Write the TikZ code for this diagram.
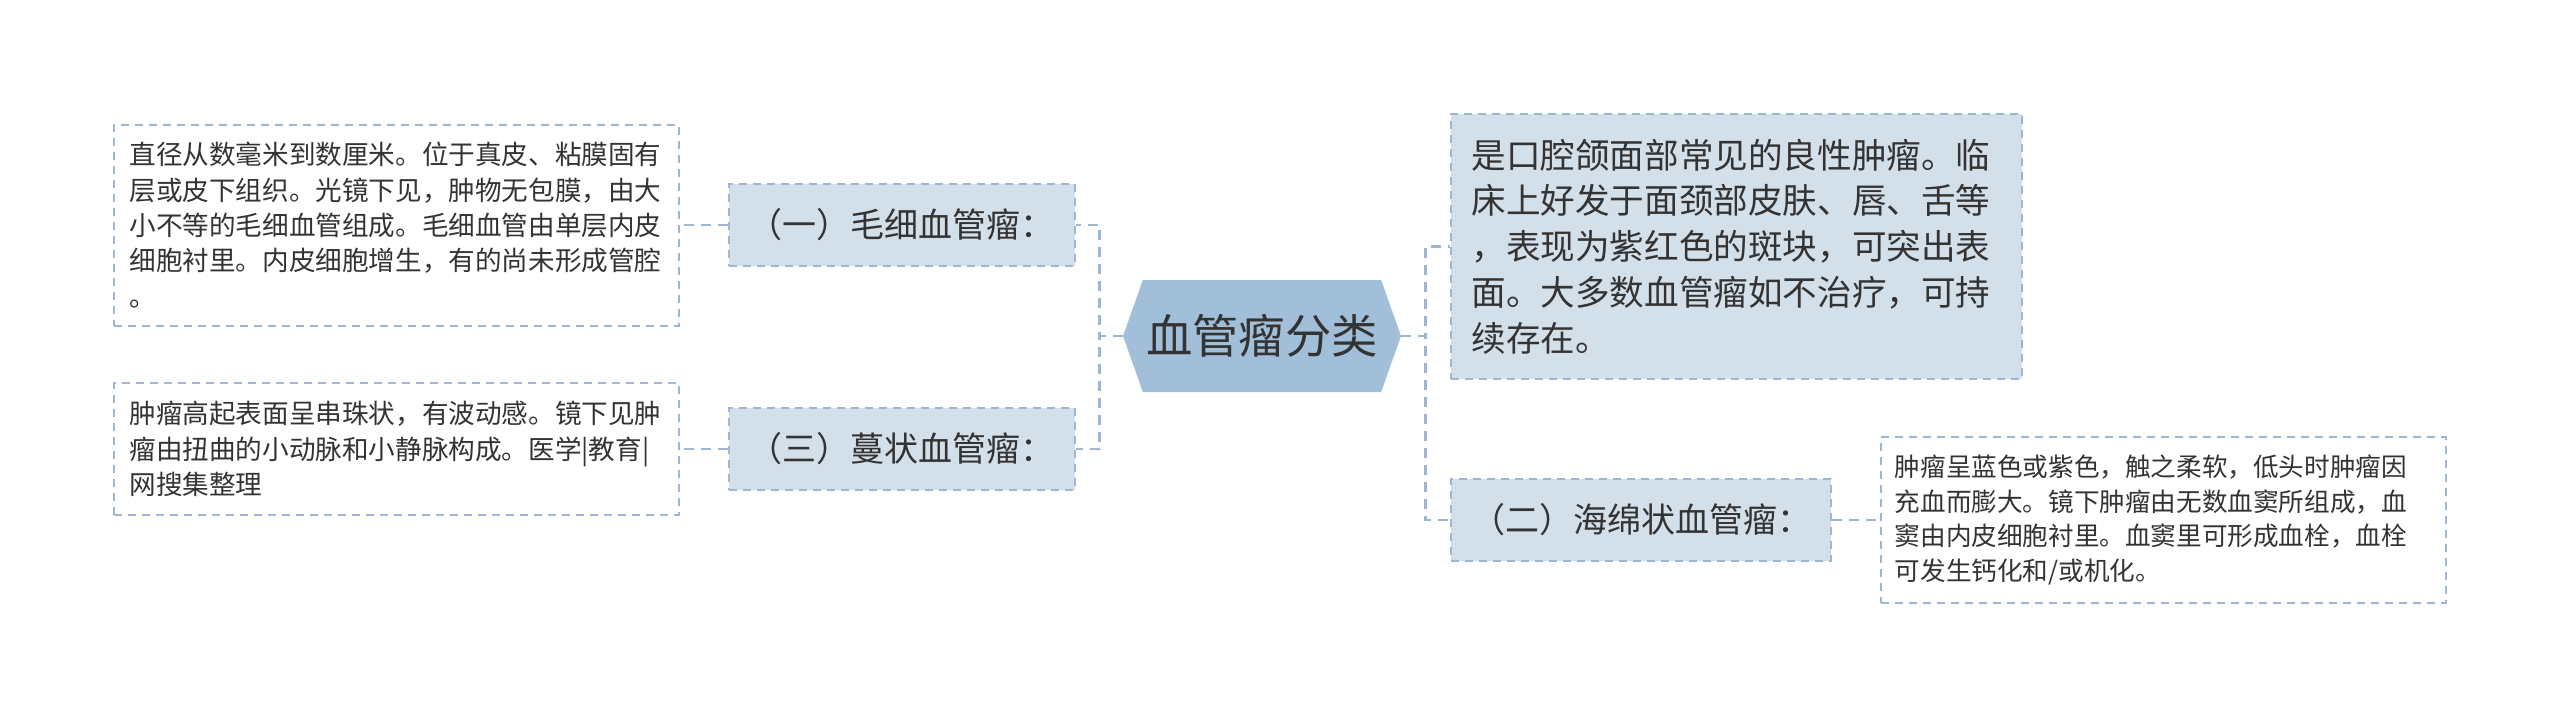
\documentclass[tikz,border=0pt]{standalone}
\usepackage{fontspec}
\setmainfont{Noto Sans CJK SC}
\usepackage{tikz}
\usetikzlibrary{positioning, shapes.symbols}

\definecolor{hubfill}{HTML}{A2BFDA}
\definecolor{boxfill}{HTML}{D3DFE9}
\definecolor{linecol}{HTML}{9DB7D2}
\definecolor{ink}{HTML}{333333}

\begin{document}
\begin{tikzpicture}[text=ink,
        topic/.style={signal, signal to=west and east, signal pointer angle=141, fill=hubfill,
                      minimum width=139pt, minimum height=56pt, inner sep=0pt,
                      font=\fontsize{23.2}{28}\selectfont},
        branch/.style={rectangle, draw=linecol, dash pattern=on 4pt off 3pt, line width=1pt,
                       fill=boxfill, minimum height=41pt, inner xsep=10pt,
                       font=\fontsize{17}{20}\selectfont},
        info/.style={rectangle, draw=linecol, dash pattern=on 4pt off 3pt, line width=1pt,
                     fill=boxfill, align=left, inner xsep=10pt, text width=265.5pt,
                     minimum height=132.5pt, font=\fontsize{17.3}{22.9}\selectfont},
        note/.style={rectangle, draw=linecol, dash pattern=on 4pt off 3pt, line width=1pt,
                     fill=white, align=left, inner xsep=8pt, text width=266.5pt,
                     font=\fontsize{13.3}{17.7}\selectfont},
        toL/.style={to path={(\tikztostart.west) -- ++(-11.5pt,0) |- (\tikztotarget.east)}},
        toR/.style={to path={(\tikztostart.east) -- ++(12pt,0) |- (\tikztotarget.west)}},
        leafL/.style={to path={(\tikztostart.west) -- (\tikztotarget.east)}},
        leafR/.style={to path={(\tikztostart.east) -- (\tikztotarget.west)}},
        every edge/.style={draw=linecol, line width=1.3pt, dash pattern=on 5pt off 3.5pt}]
    \useasboundingbox (0,0) rectangle (1280pt,-359pt);

    \node[topic]                 (root) at (631pt,-168pt)                  {血管瘤分类};
    \node[branch]                (c_1)  [left=23.5pt of root, yshift=55.5pt]  {（一）毛细血管瘤：};
    \node[branch]                (c_3)  [left=23.5pt of root, yshift=-56.5pt] {（三）蔓状血管瘤：};
    \node[info]                  (d)    [right=24.5pt of root, yshift=44.75pt] {是口腔颌面部常见的良性肿瘤。临\\床上好发于面颈部皮肤、唇、舌等\\，表现为紫红色的斑块，可突出表\\面。大多数血管瘤如不治疗，可持\\续存在。};
    \node[branch]                (c_2)  [right=24.5pt of root, yshift=-92pt]  {（二）海绵状血管瘤：};
    \node[note, minimum height=100.5pt] (n_1) [left=24pt of c_1]  {直径从数毫米到数厘米。位于真皮、粘膜固有\\层或皮下组织。光镜下见，肿物无包膜，由大\\小不等的毛细血管组成。毛细血管由单层内皮\\细胞衬里。内皮细胞增生，有的尚未形成管腔\\。};
    \node[note, minimum height=66pt]    (n_3) [left=24pt of c_3]  {肿瘤高起表面呈串珠状，有波动感。镜下见肿\\瘤由扭曲的小动脉和小静脉构成。医学|教育|\\网搜集整理};
    \node[note, minimum height=83pt, text width=269pt, inner xsep=6.75pt,
          font=\fontsize{12.8}{17.4}\selectfont] (n_2) [right=24pt of c_2] {肿瘤呈蓝色或紫色，触之柔软，低头时肿瘤因\\充血而膨大。镜下肿瘤由无数血窦所组成，血\\窦由内皮细胞衬里。血窦里可形成血栓，血栓\\可发生钙化和/或机化。};

    \path (root) edge [toL]   (c_1);
    \path (root) edge [toL]   (c_3);
    \path (root) edge [toR]   (d);
    \path (root) edge [toR]   (c_2);
    \path (c_1)  edge [leafL] (n_1);
    \path (c_3)  edge [leafL] (n_3);
    \path (c_2)  edge [leafR] (n_2);
\end{tikzpicture}
\end{document}
